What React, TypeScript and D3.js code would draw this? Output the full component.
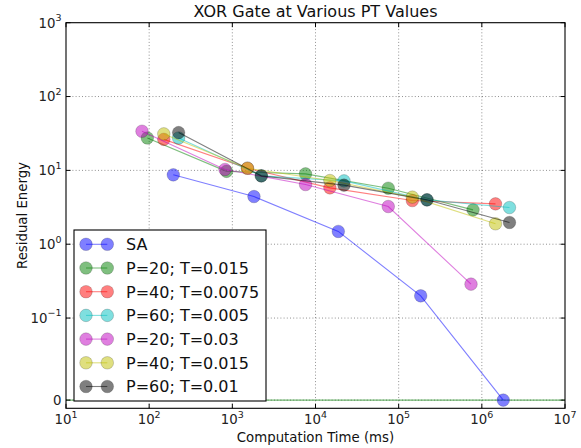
import React from "react";
import * as d3 from "d3";

const seriesNames = [
  "SA",
  "P=20; T=0.015",
  "P=40; T=0.0075",
  "P=60; T=0.005",
  "P=20; T=0.03",
  "P=40; T=0.015",
  "P=60; T=0.01",
];
const seriesColors = ["#0000ff", "#008000", "#ff0000", "#00bfbf", "#bf00bf", "#bfbf00", "#000000"];

const saX = [195, 1820, 18800, 184000, 1810000];
const saY = [8.7, 4.42, 1.49, 0.2, 0];
const g1X = [95, 851, 7590, 75000, 784000];
const g1Y = [27.5, 9.7, 8.97, 5.74, 2.92];
const r1X = [150, 1520, 14900, 146000, 1460000];
const r1Y = [26.3, 10.7, 5.8, 3.9, 3.52];
const c1X = [226, 2230, 22000, 219000, 2150000];
const c1Y = [27.5, 8.43, 7.21, 3.99, 3.14];
const m1X = [82, 816, 7590, 75000, 741000];
const m1Y = [33.9, 10.3, 6.43, 3.24, 0.288];
const y1X = [150, 1520, 14900, 146000, 1460000];
const y1Y = [31.2, 10.7, 7.28, 4.34, 1.89];
const k1X = [226, 2230, 22000, 219000, 2150000];
const k1Y = [32.5, 8.43, 6.31, 3.99, 1.97];

const allX = [saX, g1X, r1X, c1X, m1X, y1X, k1X];
const allY = [saY, g1Y, r1Y, c1Y, m1Y, y1Y, k1Y];

const xTickExps = [1, 2, 3, 4, 5, 6, 7];
const yTickVals = [0, 0.1, 1, 10, 100, 1000];
const yTickExps = [null, "\u22121", "0", "1", "2", "3"];

const W = 581, H = 448;
const L = 66, R = 565, T = 22.7, B = 408.3;

// matplotlib-like symlog (linthresh 0.1, linscale 1, base 10)
const LT = 0.1;
const LS = 1 / (1 - 1 / 10);
const tf = (v: number) => (Math.abs(v) >= LT ? Math.sign(v) * (LS + Math.log10(Math.abs(v) / LT)) : (v / LT) * LS);

const xScale = d3.scaleLog().domain([10, 1e7]).range([L, R]);
const yLin = d3.scaleLinear().domain([tf(-0.01), tf(1000)]).range([B, T]);
const yScale = (v: number) => yLin(tf(v));

const FONT = "DejaVu Sans, sans-serif";

export default function App() {
  const line = d3
    .line<[number, number]>()
    .x((d) => xScale(d[0]))
    .y((d) => yScale(d[1]));

  const legX0 = 74, legY0 = 230, legX1 = 266, legY1 = 401;
  const legRow0 = 244.3, legStep = 23.7;

  return (
    <svg
      width={W}
      height={H}
      style={{ position: "absolute", left: 0, top: 0, background: "#fff" }}
      fontFamily={FONT}
    >
      <rect x={0} y={0} width={W} height={H} fill="#fff" />
      {/* grid */}
      <g stroke="#000" strokeOpacity={0.55} strokeWidth={0.8} strokeDasharray="1,2.2">
        {xTickExps.slice(1, -1).map((e) => (
          <line key={"gx" + e} x1={xScale(Math.pow(10, e))} x2={xScale(Math.pow(10, e))} y1={T} y2={B} />
        ))}
        {yTickVals.slice(0, -1).map((v) => (
          <line key={"gy" + v} x1={L} x2={R} y1={yScale(v)} y2={yScale(v)} />
        ))}
      </g>
      {/* green zero line */}
      <line x1={L} x2={R} y1={yScale(0)} y2={yScale(0)} stroke="#008000" strokeOpacity={0.55} strokeWidth={1.1} />

      {/* series */}
      {allX.map((xs, i) => {
        const pts = xs.map((x, j) => [x, allY[i][j]] as [number, number]);
        return (
          <g key={"s" + i}>
            <path d={line(pts) || ""} fill="none" stroke={seriesColors[i]} strokeOpacity={0.5} strokeWidth={1.1} />
            {pts.map((p, j) => (
              <circle
                key={j}
                cx={xScale(p[0])}
                cy={yScale(p[1])}
                r={6.3}
                fill={seriesColors[i]}
                fillOpacity={0.5}
                stroke="#000"
                strokeOpacity={0.25}
                strokeWidth={0.7}
              />
            ))}
          </g>
        );
      })}

      {/* axes frame */}
      <rect x={L} y={T} width={R - L} height={B - T} fill="none" stroke="#000" strokeWidth={1.1} />

      {/* ticks */}
      <g stroke="#000" strokeWidth={1}>
        {xTickExps.map((e) => {
          const x = xScale(Math.pow(10, e));
          return (
            <g key={"tx" + e}>
              <line x1={x} x2={x} y1={B} y2={B - 4.5} />
              <line x1={x} x2={x} y1={T} y2={T + 4.5} />
            </g>
          );
        })}
        {yTickVals.map((v) => {
          const y = yScale(v);
          return (
            <g key={"ty" + v}>
              <line x1={L} x2={L + 4.5} y1={y} y2={y} />
              <line x1={R} x2={R - 4.5} y1={y} y2={y} />
            </g>
          );
        })}
      </g>

      {/* tick labels */}
      <g fontSize={13.3} fill="#222">
        {xTickExps.map((e) => (
          <text key={"lx" + e} x={xScale(Math.pow(10, e))} y={424} textAnchor="middle">
            10
            <tspan fontSize={9.5} dy={-6.5}>
              {e}
            </tspan>
          </text>
        ))}
        {yTickVals.map((v, i) => {
          const y = yScale(v);
          const ex = yTickExps[i];
          if (ex === null)
            return (
              <text key={"ly" + v} x={61.5} y={y + 4.8} textAnchor="end">
                0
              </text>
            );
          return (
            <text key={"ly" + v} x={61.5} y={y + 4.8} textAnchor="end">
              10
              <tspan fontSize={9.5} dy={-6.5}>
                {ex}
              </tspan>
            </text>
          );
        })}
      </g>

      {/* title and axis labels */}
      <text x={(L + R) / 2} y={17} textAnchor="middle" fontSize={16} fill="#111">
        XOR Gate at Various PT Values
      </text>
      <text x={(L + R) / 2} y={442} textAnchor="middle" fontSize={13.3} fill="#111">
        Computation Time (ms)
      </text>
      <text
        transform={`translate(26.5, ${(T + B) / 2}) rotate(-90)`}
        textAnchor="middle"
        fontSize={13.3}
        fill="#111"
      >
        Residual Energy
      </text>

      {/* legend */}
      <rect x={legX0} y={legY0} width={legX1 - legX0} height={legY1 - legY0} fill="#fff" stroke="#000" strokeWidth={1.1} />
      {seriesNames.map((name, i) => {
        const y = legRow0 + i * legStep;
        return (
          <g key={"lg" + i}>
            <line x1={86} x2={107.3} y1={y} y2={y} stroke={seriesColors[i]} strokeOpacity={0.5} strokeWidth={1.1} />
            {[86, 107.3].map((x) => (
              <circle
                key={x}
                cx={x}
                cy={y}
                r={6.3}
                fill={seriesColors[i]}
                fillOpacity={0.5}
                stroke="#000"
                strokeOpacity={0.25}
                strokeWidth={0.7}
              />
            ))}
            <text x={126} y={y + 5.8} fontSize={16} fill="#111">
              {name}
            </text>
          </g>
        );
      })}
    </svg>
  );
}
